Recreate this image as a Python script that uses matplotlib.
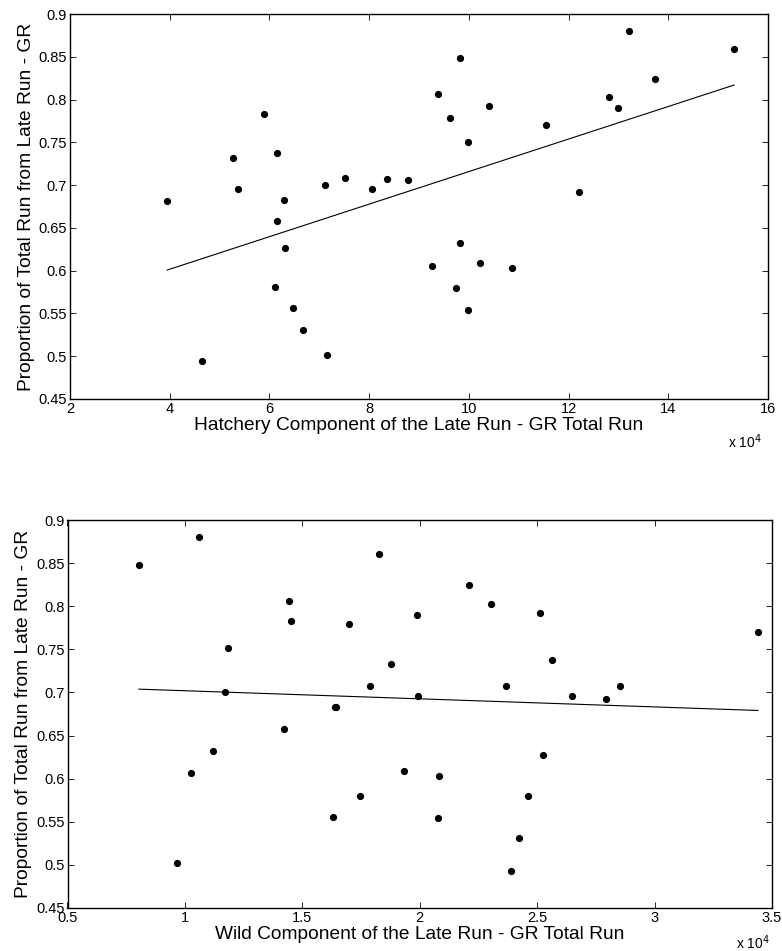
import numpy as np
import matplotlib.pyplot as plt
from matplotlib.ticker import FuncFormatter

# -----------------------------
# DATA
# -----------------------------
hatchery_run = [39500, 46400, 52700, 53700, 58900, 61100, 61500, 61600, 63000,
                63100, 64800, 66800, 71100, 71500, 75100, 80600, 83500, 87800,
                92700, 93900, 96300, 97500, 98300, 98300, 99900, 99900, 102300,
                104000, 108600, 115500, 122000, 128100, 129900, 132100, 137300,
                153200]
hatchery_prop = [0.682, 0.494, 0.732, 0.695, 0.783, 0.581, 0.658, 0.738, 0.683,
                 0.627, 0.556, 0.531, 0.700, 0.502, 0.708, 0.696, 0.707, 0.706,
                 0.606, 0.806, 0.779, 0.580, 0.848, 0.632, 0.750, 0.554, 0.609,
                 0.792, 0.603, 0.770, 0.692, 0.803, 0.790, 0.880, 0.824, 0.859]

wild_run = [8040, 9650, 10280, 10610, 11210, 11710, 11850, 14200, 14450, 14500,
            16290, 16380, 16450, 17000, 17470, 17870, 18280, 18790, 19350, 19890,
            19930, 20780, 20840, 22100, 23040, 23680, 23880, 24220, 24600, 25130,
            25240, 25640, 26490, 27950, 28530, 34400]
wild_prop = [0.848, 0.502, 0.606, 0.880, 0.632, 0.700, 0.751, 0.658, 0.806, 0.783,
             0.556, 0.683, 0.683, 0.779, 0.580, 0.708, 0.860, 0.733, 0.609, 0.790,
             0.696, 0.554, 0.603, 0.825, 0.803, 0.707, 0.493, 0.531, 0.580, 0.792,
             0.627, 0.738, 0.696, 0.692, 0.707, 0.770]

YLABEL = "Proportion of Total Run from Late Run - GR"

plt.rcParams["font.family"] = "Liberation Sans"

fig = plt.figure(figsize=(7.82, 9.51), dpi=100)
ax1 = fig.add_axes([70 / 782, 1 - 399 / 951, 698 / 782, 385 / 951])
ax2 = fig.add_axes([67.5 / 782, 1 - 908 / 951, 704.5 / 782, 388 / 951])

panels = [
    (ax1, hatchery_run, hatchery_prop, (20000, 160000), np.arange(20000, 160001, 20000),
     "Hatchery Component of the Late Run - GR Total Run", (0.991, -0.112)),
    (ax2, wild_run, wild_prop, (5000, 35000), np.arange(5000, 35001, 5000),
     "Wild Component of the Late Run - GR Total Run", (0.997, -0.09)),
]

for ax, x, y, xlim, xticks, xlabel, mult_pos in panels:
    x = np.asarray(x, dtype=float)
    y = np.asarray(y, dtype=float)

    # least-squares line over the data range
    slope, icpt = np.polyfit(x, y, 1)
    xf = np.array([x.min(), x.max()])
    ax.plot(xf, slope * xf + icpt, color="black", lw=0.8)

    ax.plot(x, y, "o", color="black", markersize=5.2, markeredgewidth=0)

    ax.set_xlim(*xlim)
    ax.set_ylim(0.45, 0.9)
    ax.set_xticks(xticks)
    ax.set_yticks(np.arange(0.45, 0.901, 0.05))
    ax.xaxis.set_major_formatter(FuncFormatter(lambda v, p: f"{v / 1e4:g}"))
    ax.yaxis.set_major_formatter(FuncFormatter(lambda v, p: f"{v:g}"))
    ax.tick_params(direction="in", length=4, width=0.6, top=True, right=True,
                   labelsize=10.5, pad=2)
    for s in ax.spines.values():
        s.set_linewidth(1.0)

    ax.set_xlabel(xlabel, fontsize=13.8, labelpad=1)
    ax.set_ylabel(YLABEL, fontsize=13.8, labelpad=3)
    ax.text(mult_pos[0], mult_pos[1], r"x 10$^{4}$", transform=ax.transAxes,
            ha="right", va="center", fontsize=10)

fig.savefig("out.png", dpi=100, facecolor="white")
